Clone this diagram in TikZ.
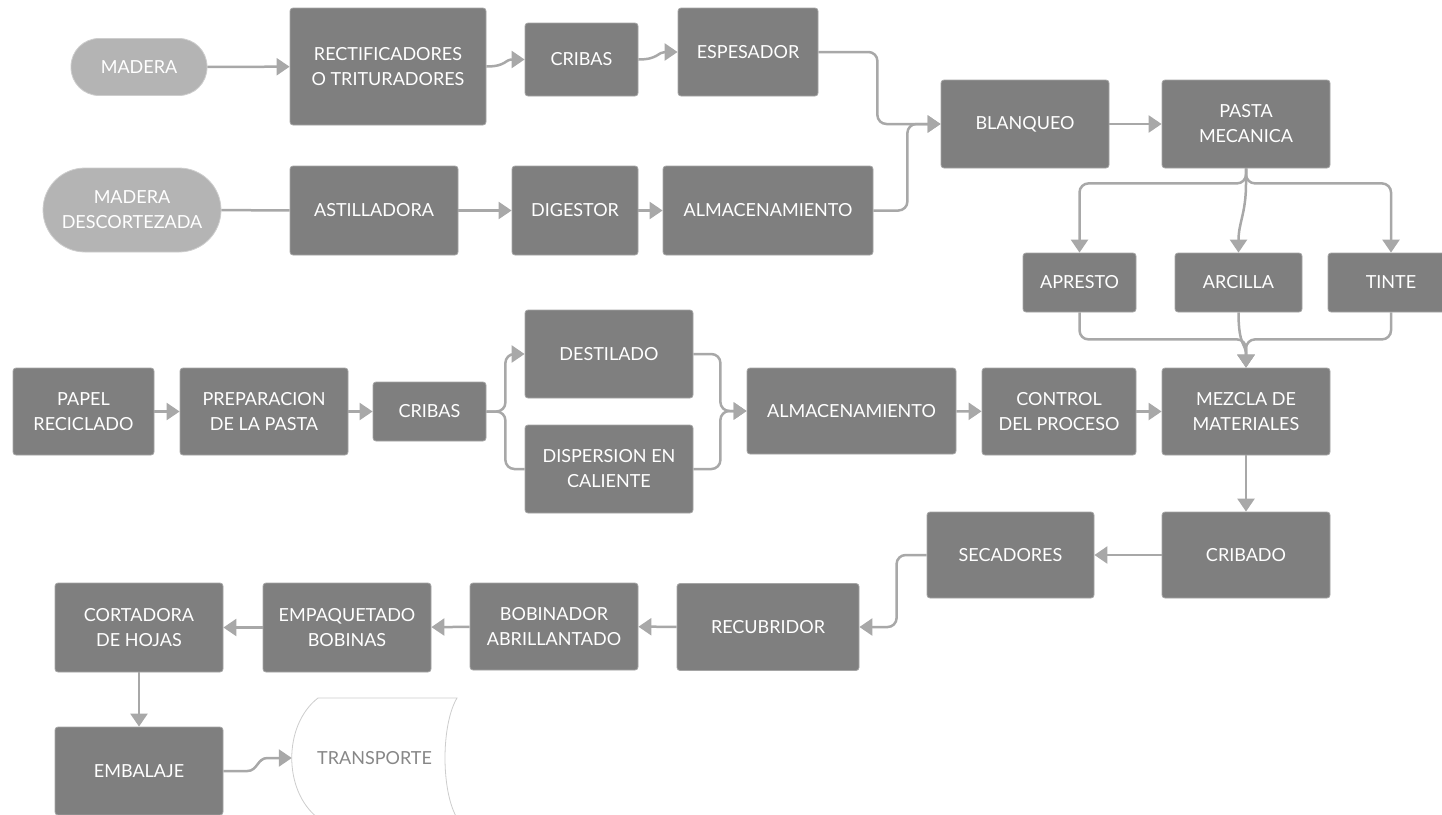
\documentclass[tikz,border=0pt]{standalone}
\usepackage{fontspec}
\setmainfont{Lato}
\usetikzlibrary{arrows.meta}
\definecolor{cajagris}{RGB}{127,127,127}
\definecolor{cajaborde}{RGB}{165,165,165}
\definecolor{pilgris}{RGB}{180,180,180}
\definecolor{pilborde}{RGB}{205,205,205}
\definecolor{lineagris}{RGB}{168,168,168}
\definecolor{textogris}{RGB}{135,135,135}

\begin{document}
\begin{tikzpicture}[x=1pt,y=-1pt,
    caja/.style={draw=cajaborde, line width=0.8pt, fill=cajagris, rounded corners=3pt,
        text=white, align=center, inner sep=0pt, font=\fontsize{18}{25}\selectfont},
    pildora/.style={caja, fill=pilgris, draw=pilborde},
    flecha/.style={draw=lineagris, line width=2.5pt, -{Triangle[length=13pt,width=17pt]}},
    linea/.style={draw=lineagris, line width=2.5pt}]
    \useasboundingbox (0,0) rectangle (1442,814);

    \node[pildora, rounded corners=28pt, minimum width=136pt, minimum height=57pt] (mad) at (139,67) {MADERA};
    \node[pildora, rounded corners=42pt, minimum width=178pt, minimum height=84pt] (madd) at (132,210) {MADERA\\DESCORTEZADA};
    \node[caja, minimum width=196pt, minimum height=117pt] (rect) at (388,66.5) {RECTIFICADORES\\O TRITURADORES};
    \node[caja, minimum width=113pt, minimum height=73pt] (crib1) at (581.5,59.5) {CRIBAS};
    \node[caja, minimum width=140pt, minimum height=88pt] (esp) at (748,52) {ESPESADOR};
    \node[caja, minimum width=168pt, minimum height=89pt] (ast) at (374,210.5) {ASTILLADORA};
    \node[caja, minimum width=126pt, minimum height=89pt] (dig) at (575,210.5) {DIGESTOR};
    \node[caja, minimum width=210pt, minimum height=89pt] (alm1) at (768,210.5) {ALMACENAMIENTO};
    \node[caja, minimum width=168pt, minimum height=88pt] (blan) at (1025,124) {BLANQUEO};
    \node[caja, minimum width=168pt, minimum height=88pt] (pasta) at (1246,124) {PASTA\\MECANICA};
    \node[caja, minimum width=113pt, minimum height=59pt] (apr) at (1079.5,282.5) {APRESTO};
    \node[caja, minimum width=127pt, minimum height=59pt] (arc) at (1238.5,282.5) {ARCILLA};
    \node[caja, minimum width=126pt, minimum height=59pt] (tin) at (1391,282.5) {TINTE};

    \node[caja, minimum width=141pt, minimum height=87pt] (papel) at (83.5,411.5) {PAPEL\\RECICLADO};
    \node[caja, minimum width=168pt, minimum height=87pt] (prep) at (264,411.5) {PREPARACION\\DE LA PASTA};
    \node[caja, minimum width=113pt, minimum height=59pt] (crib2) at (429.5,411.5) {CRIBAS};
    \node[caja, minimum width=168pt, minimum height=88pt] (dest) at (609,354) {DESTILADO};
    \node[caja, minimum width=168pt, minimum height=88pt] (disp) at (609,469) {DISPERSION EN\\CALIENTE};
    \node[caja, minimum width=209pt, minimum height=86pt] (alm2) at (851.5,411) {ALMACENAMIENTO};
    \node[caja, minimum width=154pt, minimum height=87pt] (ctrl) at (1059,411.5) {CONTROL\\DEL PROCESO};
    \node[caja, minimum width=168pt, minimum height=87pt] (mezc) at (1246,411.5) {MEZCLA DE\\MATERIALES};

    \node[caja, minimum width=168pt, minimum height=86pt] (criba) at (1246,555) {CRIBADO};
    \node[caja, minimum width=167pt, minimum height=86pt] (sec) at (1010.5,555) {SECADORES};
    \node[caja, minimum width=182pt, minimum height=87pt] (recu) at (768,627) {RECUBRIDOR};
    \node[caja, minimum width=168pt, minimum height=87pt] (bob) at (554,626.5) {BOBINADOR\\ABRILLANTADO};
    \node[caja, minimum width=168pt, minimum height=89pt] (emp) at (347,627.5) {EMPAQUETADO\\BOBINAS};
    \node[caja, minimum width=168pt, minimum height=89pt] (cort) at (139,627.5) {CORTADORA\\DE HOJAS};
    \node[caja, minimum width=168pt, minimum height=88pt] (emb) at (139,771) {EMBALAJE};

    \draw[draw=pilborde, line width=0.8pt, fill=white] (318,698) -- (457,698)
        .. controls (441,725) and (441,791) .. (457,818) -- (318,818)
        .. controls (283,791) and (283,725) .. (318,698);
    \node[text=textogris, inner sep=0pt, minimum width=165pt, font=\fontsize{18}{25}\selectfont] (trans) at (374.5,758) {TRANSPORTE};

    \draw[flecha] (mad) -- (rect);
    \draw[flecha] (rect.east) .. controls +(20,0) and +(-20,0) .. (crib1.west);
    \draw[flecha] (crib1.east) .. controls +(20,0) and +(-20,0) .. (esp.west);
    \draw[flecha, rounded corners=9pt] (esp.east) -- ++(59,0) |- (blan.west);
    \draw[flecha, rounded corners=9pt] (alm1.east) -- ++(34,0) |- (blan.west);
    \draw[linea] (madd) -- (ast);
    \draw[flecha] (ast) -- (dig);
    \draw[flecha] (dig) -- (alm1);
    \draw[flecha] (blan) -- (pasta);
    \draw[flecha, rounded corners=9pt] (pasta.south) -- ++(0,15) -| (apr.north);
    \draw[flecha] (pasta.south) -- ++(0,15) .. controls +(0,30) and +(0,-30) .. (arc.north);
    \draw[flecha, rounded corners=9pt] (pasta.south) -- ++(0,15) -| (tin.north);
    \draw[flecha, rounded corners=9pt] (apr.south) -- ++(0,27) -| (mezc.north);
    \draw[flecha] (arc.south) .. controls +(0,35) and +(0,-25) .. (mezc.north);
    \draw[flecha, rounded corners=9pt] (tin.south) -- ++(0,27) -| (mezc.north);

    \draw[flecha] (papel) -- (prep);
    \draw[flecha] (prep) -- (crib2);
    \draw[flecha, rounded corners=9pt] (crib2.east) -- ++(19,0) |- (dest.west);
    \draw[linea, rounded corners=9pt] (crib2.east) -- ++(19,0) |- (disp.west);
    \draw[flecha, rounded corners=9pt] (dest.east) -- ++(27,0) |- (alm2.west);
    \draw[flecha, rounded corners=9pt] (disp.east) -- ++(27,0) |- (alm2.west);
    \draw[flecha] (alm2) -- (ctrl);
    \draw[flecha] (ctrl) -- (mezc);

    \draw[flecha] (mezc) -- (criba);
    \draw[flecha] (criba) -- (sec);
    \draw[flecha, rounded corners=9pt] (sec.west) -- ++(-30,0) |- (recu.east);
    \draw[flecha] (recu) -- (bob);
    \draw[flecha] (bob) -- (emp);
    \draw[flecha] (emp) -- (cort);
    \draw[flecha] (cort) -- (emb);
    \draw[flecha] (emb.east) -- ++(24,0) .. controls +(10,0) and +(-10,0) .. ++(20,-13) -- (trans.west);
\end{tikzpicture}
\end{document}
